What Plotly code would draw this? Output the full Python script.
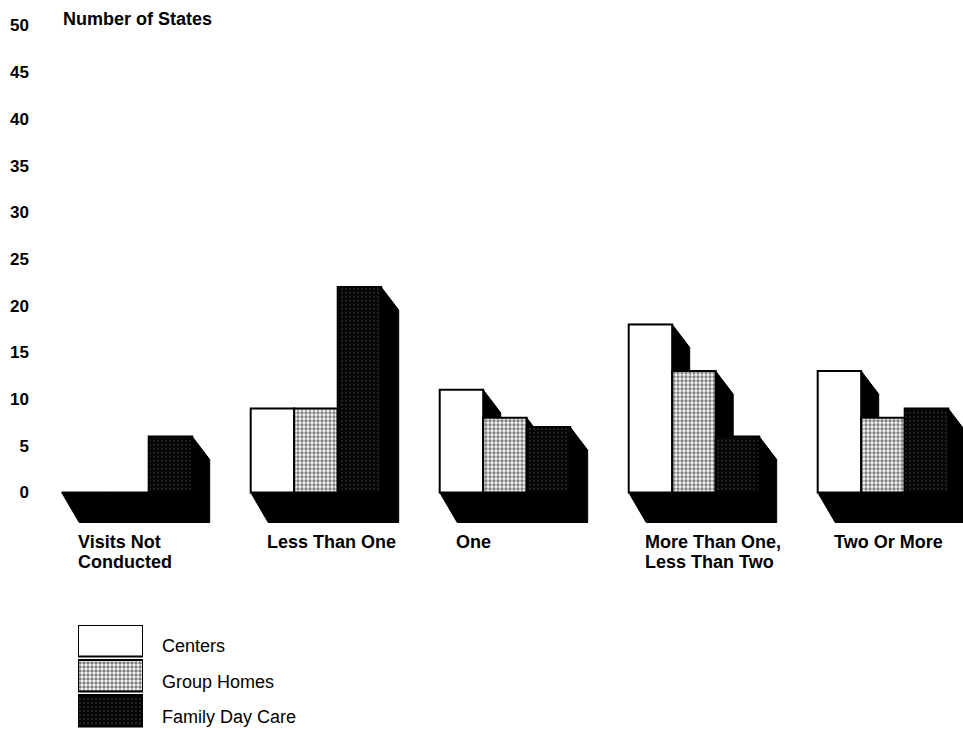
import plotly.graph_objects as go

# ---- data -------------------------------------------------------------
categories = ["Visits Not<br>Conducted", "Less Than One", "One",
              "More Than One,<br>Less Than Two", "Two Or More"]
series_names = ["Centers", "Group Homes", "Family Day Care"]
centers = [0, 9, 11, 18, 13]
group_homes = [0, 9, 8, 13, 8]
family_day_care = [6, 22, 7, 6, 9]
y_ticks = [0, 5, 10, 15, 20, 25, 30, 35, 40, 45, 50]
y_title = "Number of States"

series_values = [centers, group_homes, family_day_care]

# ---- page geometry (pixels) -------------------------------------------
W, H = 963, 730
PLOT_LEFT_PX = 40
ZERO_PX = 492.5          # vertical pixel of value 0
PX_PER_Y = 9.34          # pixels per state
PX_PER_GROUP = 189       # pixels between category groups
FIRST_GROUP_LEFT_PX = 61.7
BAR_PX = 43.5

BAR_W = BAR_PX / PX_PER_GROUP
GROUP_HALF = 1.5 * BAR_W

# depth of the extruded "3-D" shading
DX = 17.5 / PX_PER_GROUP
DY_TOP = 23 / PX_PER_Y
DY_FLOOR = 30 / PX_PER_Y

Y_MIN, Y_MAX = -6.5, 52


def px_to_x(px):
    return (px - FIRST_GROUP_LEFT_PX) / PX_PER_GROUP - GROUP_HALF


def ypx_to_paper(py):
    return 1 - py / H


x_range = [px_to_x(PLOT_LEFT_PX), px_to_x(W)]
y_domain = [ypx_to_paper(ZERO_PX - Y_MIN * PX_PER_Y),
            ypx_to_paper(ZERO_PX - Y_MAX * PX_PER_Y)]

FONT = "Liberation Sans"
BOLD = dict(family=FONT, size=18, color="black", weight="bold")

styles = [
    dict(color="white",
         pattern=None),
    dict(color="white",
         pattern=dict(shape=".", bgcolor="white", fgcolor="black",
                      size=4, solidity=0.6)),
    dict(color="black",
         pattern=dict(shape=".", bgcolor="#050505", fgcolor="#9a9a9a",
                      size=4, solidity=0.12)),
]


def marker_for(k):
    st = styles[k]
    m = dict(color=st["color"], line=dict(color="black", width=2))
    if st["pattern"] is not None:
        m["pattern"] = st["pattern"]
    return m


fig = go.Figure()

# front faces of the bars
shadow_paths = []
for k, (name, vals) in enumerate(zip(series_names, series_values)):
    xs = [i + (k - 1) * BAR_W for i in range(len(categories))]
    fig.add_trace(go.Bar(
        x=xs, y=vals, width=BAR_W, name=name,
        marker=marker_for(k), showlegend=False,
        hovertemplate=name + ": %{y}<extra></extra>",
    ))
    # extruded black body behind each bar face
    for x_c, h in zip(xs, vals):
        x0 = x_c - BAR_W / 2
        x1 = x_c + BAR_W / 2
        pts = [(x0, 0), (x0, h), (x1, h), (x1 + DX, h - DY_TOP),
               (x1 + DX, -DY_FLOOR), (x0 + DX, -DY_FLOOR)]
        path = "M " + " L ".join(f"{px:.4f},{py:.4f}" for px, py in pts) + " Z"
        shadow_paths.append(path)

shapes = [dict(type="path", path=p, xref="x", yref="y", layer="below",
               fillcolor="black", line=dict(color="black", width=1))
          for p in shadow_paths]

# legend swatches drawn on a small auxiliary subplot
LEG_LEFT, LEG_RIGHT = 78, 143
LEG_TOP, LEG_ROW = 625, 35.5
SWATCH = 32 / LEG_ROW
for k, name in enumerate(series_names):
    fig.add_trace(go.Bar(
        x=[0.5], y=[SWATCH], base=[k], width=[1], marker=marker_for(k),
        xaxis="x2", yaxis="y2", showlegend=False, hoverinfo="skip",
    ))

annotations = []
# category labels under each group (one annotation per text line)
LINE_PX = 20
for i, lab in enumerate(categories):
    for j, line in enumerate(lab.split("<br>")):
        annotations.append(dict(
            x=i - GROUP_HALF + 14 / PX_PER_GROUP,
            y=ypx_to_paper(542 + j * LINE_PX), xref="x", yref="paper",
            text=line, showarrow=False, xanchor="left", yanchor="middle",
            font=BOLD,
        ))
# axis title
annotations.append(dict(
    x=61 / W, y=ypx_to_paper(19), xref="paper", yref="paper",
    text=y_title, showarrow=False, xanchor="left", yanchor="middle",
    font=BOLD,
))
# legend labels
for k, name in enumerate(series_names):
    annotations.append(dict(
        x=160 / W, y=ypx_to_paper(LEG_TOP + LEG_ROW * (k + 0.5) + 3.5),
        xref="paper", yref="paper", text=name, showarrow=False,
        xanchor="left", yanchor="middle",
        font=dict(family=FONT, size=18, color="black"),
    ))

fig.update_layout(
    width=W, height=H,
    margin=dict(l=0, r=0, t=0, b=0),
    paper_bgcolor="white", plot_bgcolor="white",
    barmode="overlay",
    showlegend=False,
    shapes=shapes,
    annotations=annotations,
    xaxis=dict(domain=[PLOT_LEFT_PX / W, 1], range=x_range,
               showgrid=False, zeroline=False, showline=False,
               showticklabels=False, ticks="", fixedrange=True),
    yaxis=dict(domain=y_domain, range=[Y_MIN, Y_MAX],
               tickmode="array", tickvals=y_ticks,
               ticktext=[str(v) for v in y_ticks],
               showgrid=False, zeroline=False, showline=False,
               ticks="", ticklabelstandoff=10, automargin=False,
               tickfont=dict(family=FONT, size=17, color="black",
                             weight="bold")),
    xaxis2=dict(domain=[LEG_LEFT / W, LEG_RIGHT / W], range=[0, 1],
                anchor="y2", visible=False, fixedrange=True),
    yaxis2=dict(domain=[max(0, ypx_to_paper(LEG_TOP + 3 * LEG_ROW)),
                        ypx_to_paper(LEG_TOP)],
                range=[3, 0], anchor="x2", visible=False, fixedrange=True),
)

fig.write_html("out.html")
